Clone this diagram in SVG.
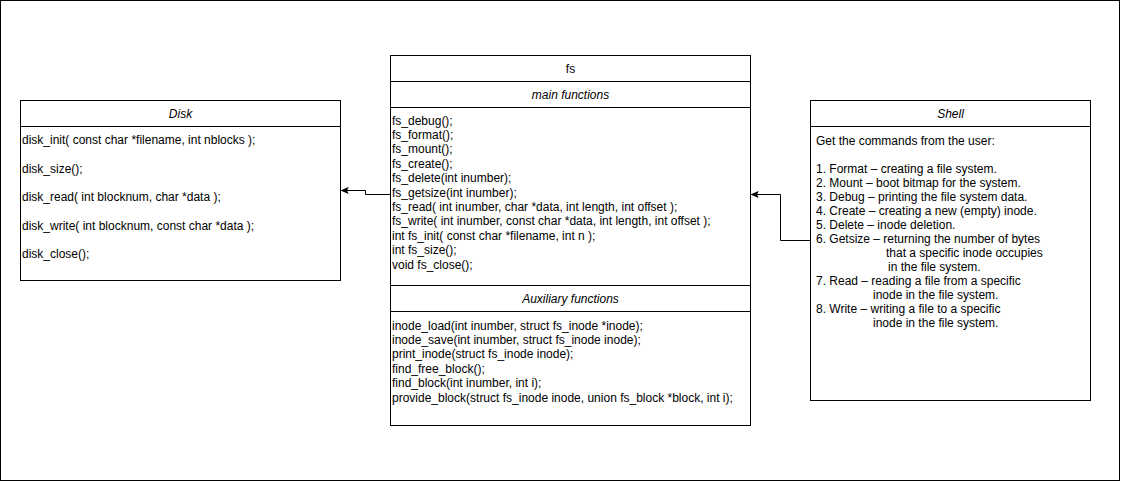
<svg xmlns="http://www.w3.org/2000/svg" width="1121" height="482" viewBox="0 0 1121 482">
  <style>
    .box { fill: #ffffff; stroke: #000000; stroke-width: 1; }
    .sep { stroke: #000000; stroke-width: 1; fill: none; }
    .t { font-family: "Liberation Sans", Arial, sans-serif; font-size: 12px; fill: #000000; }
    .h { text-anchor: middle; }
    .i { font-style: italic; }
    .edge { stroke: #000000; stroke-width: 1; fill: none; marker-end: url(#arrow); }
  </style>
  <defs>
    <marker id="arrow" viewBox="0 0 10 10" refX="9" refY="5" markerWidth="8" markerHeight="8" markerUnits="userSpaceOnUse" orient="auto">
      <path d="M0,0.5 L10,5 L0,9.5 L2,5 Z" fill="#000000"/>
    </marker>
  </defs>

  <rect x="0.5" y="0.5" width="1119" height="480" fill="#ffffff" stroke="#000000"/>

  <g id="connectors">
    <polyline class="edge" points="390,194.5 365.5,194.5 365.5,190.5 341.5,190.5"/>
    <polyline class="edge" points="810,240.5 780.5,240.5 780.5,194.5 751.5,194.5"/>
  </g>

  <g id="disk">
    <rect class="box" x="20.5" y="100.5" width="320" height="180"/>
    <line class="sep" x1="20.5" y1="126.5" x2="340.5" y2="126.5"/>
    <text class="t h i" x="180.5" y="118">Disk</text>
    <text class="t" x="22" y="144">disk_init( const char *filename, int nblocks );</text>
    <text class="t" x="22" y="172.5">disk_size();</text>
    <text class="t" x="22" y="201">disk_read( int blocknum, char *data );</text>
    <text class="t" x="22" y="229.5">disk_write( int blocknum, const char *data );</text>
    <text class="t" x="22" y="258">disk_close();</text>
  </g>

  <g id="fs">
    <rect class="box" x="390.5" y="55.5" width="360" height="370"/>
    <line class="sep" x1="390.5" y1="81.5" x2="750.5" y2="81.5"/>
    <line class="sep" x1="390.5" y1="107.5" x2="750.5" y2="107.5"/>
    <line class="sep" x1="390.5" y1="285.5" x2="750.5" y2="285.5"/>
    <line class="sep" x1="390.5" y1="311.5" x2="750.5" y2="311.5"/>
    <text class="t h" x="570.5" y="73">fs</text>
    <text class="t h i" x="570.5" y="99">main functions</text>
    <text class="t" x="392" y="124.5">fs_debug();</text>
    <text class="t" x="392" y="138.9">fs_format();</text>
    <text class="t" x="392" y="153.3">fs_mount();</text>
    <text class="t" x="392" y="167.7">fs_create();</text>
    <text class="t" x="392" y="182.1">fs_delete(int inumber);</text>
    <text class="t" x="392" y="196.5">fs_getsize(int inumber);</text>
    <text class="t" x="392" y="210.9">fs_read( int inumber, char *data, int length, int offset );</text>
    <text class="t" x="392" y="225.3">fs_write( int inumber, const char *data, int length, int offset );</text>
    <text class="t" x="392" y="239.7">int fs_init( const char *filename, int n );</text>
    <text class="t" x="392" y="254.1">int fs_size();</text>
    <text class="t" x="392" y="268.5">void fs_close();</text>
    <text class="t h i" x="570.5" y="303">Auxiliary functions</text>
    <text class="t" x="392" y="329.5">inode_load(int inumber, struct fs_inode *inode);</text>
    <text class="t" x="392" y="343.9">inode_save(int inumber, struct fs_inode inode);</text>
    <text class="t" x="392" y="358.3">print_inode(struct fs_inode inode);</text>
    <text class="t" x="392" y="372.7">find_free_block();</text>
    <text class="t" x="392" y="387.1">find_block(int inumber, int i);</text>
    <text class="t" x="392" y="401.5">provide_block(struct fs_inode inode, union fs_block *block, int i);</text>
  </g>

  <g id="shell">
    <rect class="box" x="810.5" y="100.5" width="280" height="300"/>
    <line class="sep" x1="810.5" y1="126.5" x2="1090.5" y2="126.5"/>
    <text class="t h i" x="950.5" y="118">Shell</text>
    <text class="t" x="816" y="144.5">Get the commands from the user:</text>
    <text class="t" x="816" y="172.5">1. Format – creating a file system.</text>
    <text class="t" x="816" y="186.5">2. Mount – boot bitmap for the system.</text>
    <text class="t" x="816" y="200.5">3. Debug – printing the file system data.</text>
    <text class="t" x="816" y="214.5">4. Create – creating a new (empty) inode.</text>
    <text class="t" x="816" y="228.5">5. Delete – inode deletion.</text>
    <text class="t" x="816" y="242.5">6. Getsize – returning the number of bytes</text>
    <text class="t" x="886" y="256.5">that a specific inode occupies</text>
    <text class="t" x="888" y="270.5">in the file system.</text>
    <text class="t" x="816" y="284.5">7. Read – reading a file from a specific</text>
    <text class="t" x="873" y="298.5">inode in the file system.</text>
    <text class="t" x="816" y="312.5">8. Write – writing a file to a specific</text>
    <text class="t" x="873" y="326.5">inode in the file system.</text>
  </g>
</svg>
